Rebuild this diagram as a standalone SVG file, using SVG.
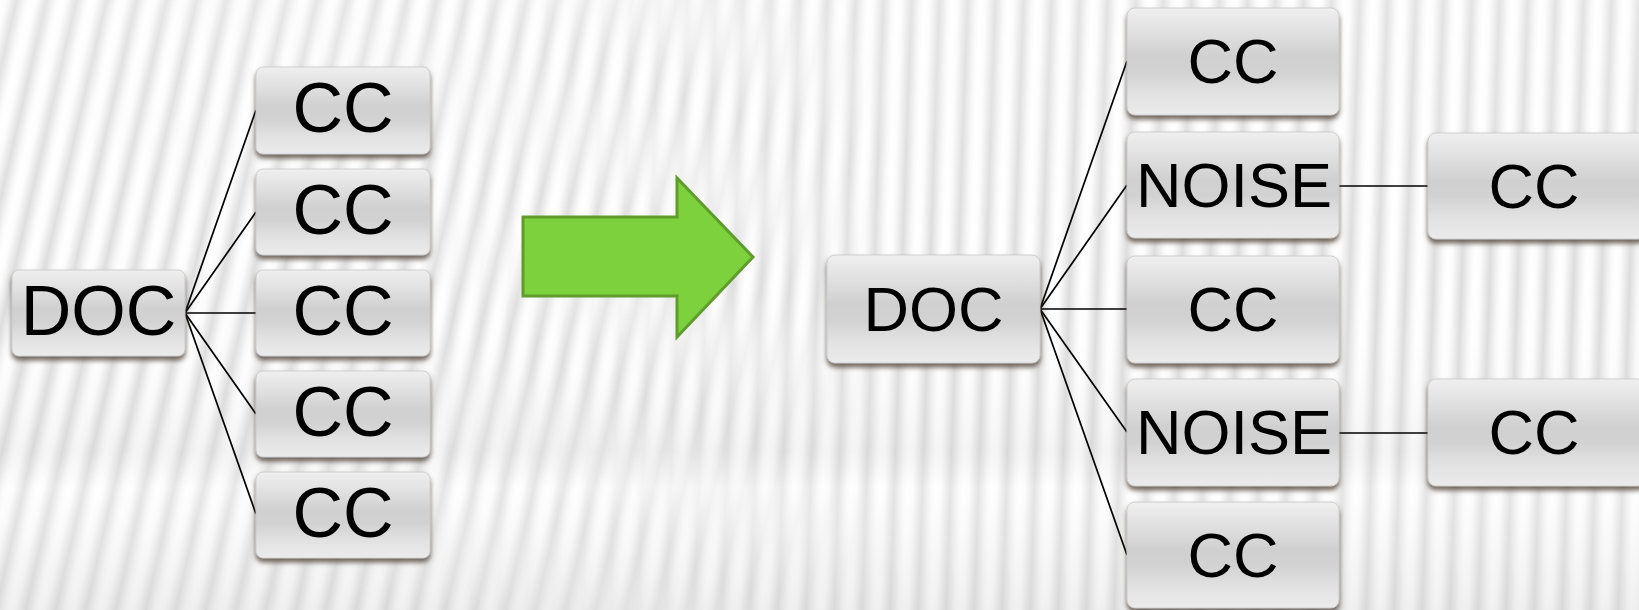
<svg xmlns="http://www.w3.org/2000/svg" width="1639" height="610" viewBox="0 0 1639 610">
<defs>
  <style>
    .box { fill: url(#boxg); stroke: #c8c8c8; stroke-width: 0.8; filter: url(#sh); }
    .lbl { font-family: "Liberation Sans", Arial, sans-serif; fill: #000; text-anchor: middle; }
    .big { font-size: 70px; }
    .med { font-size: 63px; }
    .conn { stroke: #000; stroke-width: 1.7; fill: none; }
  </style>
  <linearGradient id="stripe" x1="0" y1="0" x2="1" y2="0">
    <stop offset="0" stop-color="#ffffff"/>
    <stop offset="0.2" stop-color="#fcfcfc"/>
    <stop offset="0.55" stop-color="#dcdcdc"/>
    <stop offset="0.85" stop-color="#f8f8f8"/>
    <stop offset="1" stop-color="#ffffff"/>
  </linearGradient>
  <pattern id="pA" width="30" height="610" patternUnits="userSpaceOnUse" patternTransform="skewX(-13)">
    <rect width="30" height="610" fill="url(#stripe)"/>
  </pattern>
  <pattern id="pB" width="28" height="610" patternUnits="userSpaceOnUse" patternTransform="skewX(-2)">
    <rect width="28" height="610" fill="url(#stripe)"/>
  </pattern>
  <linearGradient id="fadeL" x1="0" y1="0" x2="1" y2="0">
    <stop offset="0" stop-color="#fff" stop-opacity="1"/>
    <stop offset="0.35" stop-color="#fff" stop-opacity="0.8"/>
    <stop offset="0.55" stop-color="#fff" stop-opacity="0"/>
    <stop offset="1" stop-color="#fff" stop-opacity="0"/>
  </linearGradient>
  <mask id="mL">
    <rect width="1639" height="610" fill="url(#fadeL)"/>
  </mask>
  <linearGradient id="shade" x1="0" y1="0" x2="0" y2="1">
    <stop offset="0" stop-color="#ffffff" stop-opacity="0.2"/>
    <stop offset="0.5" stop-color="#ffffff" stop-opacity="0"/>
    <stop offset="0.74" stop-color="#cfcfcf" stop-opacity="0.2"/>
    <stop offset="0.8" stop-color="#ffffff" stop-opacity="0.25"/>
    <stop offset="1" stop-color="#d0d0d0" stop-opacity="0.3"/>
  </linearGradient>
  <linearGradient id="boxg" x1="0" y1="0" x2="0" y2="1">
    <stop offset="0" stop-color="#efefef"/>
    <stop offset="0.2" stop-color="#e2e2e2"/>
    <stop offset="0.45" stop-color="#d0d0d0"/>
    <stop offset="0.6" stop-color="#d2d2d2"/>
    <stop offset="0.8" stop-color="#e2e2e2"/>
    <stop offset="1" stop-color="#ebebeb"/>
  </linearGradient>
  <filter id="sh" x="-10%" y="-10%" width="120%" height="130%">
    <feDropShadow dx="0" dy="4" stdDeviation="2.5" flood-color="#4e3e36" flood-opacity="0.8"/>
  </filter>
</defs>

<g id="background">
  <rect width="1639" height="610" fill="#ffffff"/>
  <rect width="1639" height="610" fill="url(#pB)"/>
  <rect width="1639" height="610" fill="url(#pA)" mask="url(#mL)"/>
  <rect width="1639" height="610" fill="url(#shade)"/>
</g>

<g id="connectors">
  <line class="conn" x1="185" y1="313" x2="256" y2="110"/>
  <line class="conn" x1="185" y1="313" x2="256" y2="212"/>
  <line class="conn" x1="185" y1="313" x2="256" y2="313"/>
  <line class="conn" x1="185" y1="313" x2="256" y2="414"/>
  <line class="conn" x1="185" y1="313" x2="256" y2="514"/>
  <line class="conn" x1="1040" y1="309" x2="1127" y2="61"/>
  <line class="conn" x1="1040" y1="309" x2="1127" y2="185"/>
  <line class="conn" x1="1040" y1="309" x2="1127" y2="309"/>
  <line class="conn" x1="1040" y1="309" x2="1127" y2="432"/>
  <line class="conn" x1="1040" y1="309" x2="1127" y2="555"/>
  <line class="conn" x1="1339" y1="186" x2="1428" y2="186"/>
  <line class="conn" x1="1339" y1="433" x2="1428" y2="433"/>
</g>

<g id="doc-left">
  <rect class="box" x="12" y="270" width="173" height="86" rx="7"/>
  <text class="lbl big" x="98.5" y="335">DOC</text>
</g>
<g id="cc-left-1">
  <rect class="box" x="256" y="67" width="174" height="87" rx="7"/>
  <text class="lbl big" x="343" y="132">CC</text>
</g>
<g id="cc-left-2">
  <rect class="box" x="256" y="169" width="174" height="86" rx="7"/>
  <text class="lbl big" x="343" y="234">CC</text>
</g>
<g id="cc-left-3">
  <rect class="box" x="256" y="270" width="174" height="86" rx="7"/>
  <text class="lbl big" x="343" y="335">CC</text>
</g>
<g id="cc-left-4">
  <rect class="box" x="256" y="371" width="174" height="86" rx="7"/>
  <text class="lbl big" x="343" y="436">CC</text>
</g>
<g id="cc-left-5">
  <rect class="box" x="256" y="472" width="174" height="86" rx="7"/>
  <text class="lbl big" x="343" y="537">CC</text>
</g>

<g id="arrow">
  <polygon points="523,217 677,217 677,178 753,257 677,337 677,296 523,296" fill="#7dd13c" stroke="#5e9d2b" stroke-width="3" stroke-linejoin="miter"/>
</g>

<g id="doc-right">
  <rect class="box" x="827" y="255" width="213" height="108" rx="8"/>
  <text class="lbl med" x="933.5" y="331">DOC</text>
</g>
<g id="cc-right-1">
  <rect class="box" x="1127" y="8" width="212" height="107" rx="8"/>
  <text class="lbl med" x="1233" y="83">CC</text>
</g>
<g id="noise-1">
  <rect class="box" x="1127" y="132" width="212" height="106" rx="8"/>
  <text class="lbl med" x="1234" y="207">NOISE</text>
</g>
<g id="cc-right-3">
  <rect class="box" x="1127" y="256" width="212" height="107" rx="8"/>
  <text class="lbl med" x="1233" y="331">CC</text>
</g>
<g id="noise-2">
  <rect class="box" x="1127" y="379" width="212" height="107" rx="8"/>
  <text class="lbl med" x="1234" y="454">NOISE</text>
</g>
<g id="cc-right-5">
  <rect class="box" x="1127" y="502" width="212" height="106" rx="8"/>
  <text class="lbl med" x="1233" y="577">CC</text>
</g>
<g id="cc-far-1">
  <rect class="box" x="1428" y="133" width="218" height="106" rx="8"/>
  <text class="lbl med" x="1534" y="208">CC</text>
</g>
<g id="cc-far-2">
  <rect class="box" x="1428" y="379" width="218" height="107" rx="8"/>
  <text class="lbl med" x="1534" y="454">CC</text>
</g>
</svg>
